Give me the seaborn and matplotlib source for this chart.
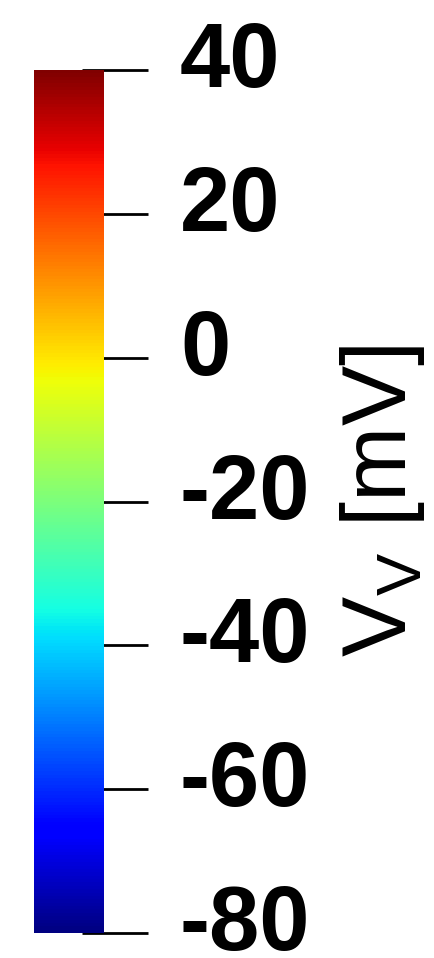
import matplotlib
matplotlib.use("Agg")
import matplotlib.pyplot as plt
import matplotlib.transforms as mtransforms
import seaborn as sns
import numpy as np

# Colour scale values (membrane potential, mV)
v_min = -80
v_max = 40
tick_values = [-80, -60, -40, -20, 0, 20, 40]
tick_labels = ["-80", "-60", "-40", "-20", "0", "20", "40"]
label_text = r"$\mathrm{V}_\mathrm{V}$ [mV]"

sns.set_style("white")
plt.rcParams["font.family"] = ["Liberation Sans", "DejaVu Sans"]
plt.rcParams["mathtext.fontset"] = "custom"
plt.rcParams["mathtext.rm"] = "Liberation Sans"
plt.rcParams["text.color"] = "black"
plt.rcParams["axes.labelcolor"] = "black"
plt.rcParams["ytick.color"] = "black"

fig = plt.figure(figsize=(4.35, 9.58), dpi=100)
ax = fig.add_axes([0.5, 0.5, 0.01, 0.01])
cax = fig.add_axes([34 / 435, 25 / 958, 70 / 435, 863 / 958])

# Heatmap only used to build the colour bar
data = np.array([[v_min, v_max]])
sns.heatmap(data, ax=ax, cmap="jet", vmin=v_min, vmax=v_max, cbar_ax=cax)
ax.set_visible(False)

cax.tick_params(right=False, labelright=False, left=False, labelleft=False)

# Ticks straddle the right edge of the bar
sec = cax.secondary_yaxis(location=(115 - 34) / 70)
for s in sec.spines.values():
    s.set_visible(False)
sec.set_yticks(tick_values)
sec.set_yticklabels(tick_labels, fontsize=65, fontweight="bold", color="black")
sec.tick_params(axis="y", direction="inout", length=47.5, width=2, color="black", pad=23)

# labels sit a little above their ticks
shift = mtransforms.ScaledTranslation(0, 16 / 100, fig.dpi_scale_trans)
for lab in sec.get_yticklabels():
    lab.set_transform(lab.get_transform() + shift)

sec.set_ylabel(label_text, fontsize=65, labelpad=20, rotation=90, color="black")

fig.savefig("out.png", dpi=100)
